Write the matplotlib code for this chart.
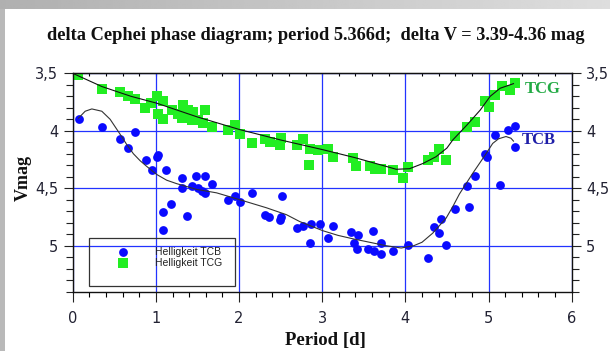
import numpy as np
import matplotlib
matplotlib.use('Agg')
import matplotlib.pyplot as plt
from matplotlib.patches import Rectangle
from matplotlib.ticker import MultipleLocator, FuncFormatter

# phase [d] and magnitude readings, blue channel (TCB)
tcb_phase = [0.07, 0.35, 0.75, 0.57, 0.67, 0.88, 0.95, 1.01, 1.03, 1.12, 1.09, 1.18,
             1.09, 1.37, 1.32, 1.32, 1.43, 1.48, 1.51, 1.59, 1.59, 1.55, 1.67, 1.87,
             1.95, 2.01, 2.15, 2.31, 2.36, 2.49, 2.50, 2.52, 2.70, 2.77, 2.87, 2.97,
             2.85, 3.07, 3.13, 3.35, 3.43, 3.38, 3.42, 3.61, 3.55, 3.62, 3.71, 3.71,
             3.85, 4.03, 4.27, 4.34, 4.40, 4.43, 4.49, 4.60, 4.77, 4.74, 4.84, 4.96,
             4.98, 5.08, 5.14, 5.24, 5.32, 5.32]
tcb_mag = [3.90, 3.97, 4.01, 4.075, 4.15, 4.25, 4.34, 4.23, 4.21, 4.34, 4.71, 4.64,
           4.86, 4.74, 4.41, 4.50, 4.48, 4.39, 4.50, 4.39, 4.54, 4.52, 4.46, 4.60,
           4.57, 4.62, 4.545, 4.73, 4.75, 4.78, 4.75, 4.57, 4.85, 4.83, 4.81, 4.81,
           4.975, 4.93, 4.83, 4.88, 4.91, 4.98, 5.03, 4.87, 5.03, 5.045, 4.975, 5.07,
           5.05, 4.995, 5.11, 4.84, 4.89, 4.77, 4.995, 4.68, 4.66, 4.48, 4.39, 4.20,
           4.23, 4.04, 4.47, 3.99, 3.96, 4.145]

# green channel (TCG)
tcg_phase = [0.06, 0.35, 0.57, 0.67, 0.75, 0.87, 0.94, 1.01, 1.09, 1.03, 1.09, 1.19,
             1.27, 1.33, 1.31, 1.39, 1.43, 1.45, 1.51, 1.59, 1.57, 1.67, 1.87, 1.95,
             2.01, 2.15, 2.31, 2.37, 2.49, 2.51, 2.70, 2.77, 2.85, 2.84, 2.95, 3.07,
             3.13, 3.37, 3.41, 3.57, 3.63, 3.71, 3.85, 3.97, 4.03, 4.27, 4.35, 4.41,
             4.49, 4.60, 4.74, 4.84, 4.96, 5.00, 5.08, 5.16, 5.26, 5.32]
tcg_mag = [3.515, 3.64, 3.665, 3.70, 3.725, 3.80, 3.755, 3.70, 3.745, 3.85, 3.90, 3.82,
           3.85, 3.775, 3.885, 3.82, 3.905, 3.835, 3.905, 3.815, 3.935, 3.965, 3.995, 3.95,
           4.03, 4.105, 4.075, 4.095, 4.125, 4.065, 4.125, 4.075, 4.155, 4.30, 4.17, 4.16,
           4.225, 4.24, 4.305, 4.305, 4.33, 4.335, 4.34, 4.415, 4.315, 4.25, 4.225, 4.16,
           4.255, 4.045, 3.965, 3.92, 3.74, 3.795, 3.69, 3.61, 3.645, 3.585]

# fitted curves as drawn in the original
tcb_fit_x = [0.07, 0.15, 0.23, 0.35, 0.45, 0.57, 0.65, 0.73, 0.81, 0.89, 1.01, 1.13,
             1.25, 1.49, 1.73, 2.01, 2.33, 2.57, 2.73, 3.01, 3.19, 3.37, 3.57, 3.77,
             3.95, 4.10, 4.20, 4.33, 4.49, 4.57, 4.65, 4.81, 4.97, 5.05, 5.12, 5.21,
             5.27, 5.30]
tcb_fit_y = [3.89, 3.83, 3.81, 3.83, 3.90, 4.03, 4.12, 4.20, 4.26, 4.31, 4.38, 4.43,
             4.46, 4.51, 4.54, 4.60, 4.67, 4.73, 4.79, 4.87, 4.91, 4.94, 4.97, 5.00,
             5.02, 5.00, 4.97, 4.89, 4.76, 4.66, 4.55, 4.37, 4.20, 4.11, 4.07, 4.05,
             4.065, 4.09]
tcg_fit_x = [0.00, 0.35, 0.70, 1.01, 1.50, 2.01, 2.50, 3.01, 3.40, 3.77, 3.89, 4.05,
             4.21, 4.37, 4.50, 4.57, 4.74, 4.90, 5.02, 5.14, 5.22, 5.30]
tcg_fit_y = [3.50, 3.615, 3.70, 3.76, 3.88, 3.99, 4.08, 4.165, 4.235, 4.31, 4.335, 4.33,
             4.285, 4.225, 4.15, 4.08, 3.95, 3.82, 3.70, 3.63, 3.61, 3.59]

TITLE = 'delta Cephei phase diagram; period 5.366d;  delta V = 3.39-4.36 mag'
W, H = 610, 351

fig = plt.figure(figsize=(W / 100, H / 100), dpi=100)
fig.patch.set_facecolor('white')

# grey window frame: gradient strip on top, plain strip on the left
band = fig.add_axes([0, 1 - 9 / H, 1, 9 / H])
band.imshow(np.linspace(0.69, 0.87, 256).reshape(1, -1), cmap='gray', vmin=0, vmax=1,
            aspect='auto', extent=(0, 1, 0, 1))
band.axis('off')
fig.patches.append(Rectangle((0, 0), 5 / W, 1 - 9 / H, transform=fig.transFigure,
                             facecolor='#b9b9b9', edgecolor='none'))

ax = fig.add_axes([72.7 / W, 1 - 291.7 / H, (571.7 - 72.7) / W, (291.7 - 73.3) / H])

ax.scatter(tcb_phase, tcb_mag, s=40, marker='o', color='#0a0aff', linewidths=0,
           label='Helligkeit TCB', zorder=2)
ax.scatter(tcg_phase, tcg_mag, s=46, marker='s', color='#22ee22', linewidths=0,
           label='Helligkeit TCG', zorder=2)
ax.plot(tcb_fit_x, tcb_fit_y, color='#333333', lw=0.8, zorder=3)
ax.plot(tcg_fit_x, tcg_fit_y, color='#111111', lw=0.8, zorder=3)

ax.text(5.44, 3.637, 'TCG', color='#22aa44', fontsize=12, fontweight='bold',
        family='Liberation Serif', ha='left', va='center')
ax.text(5.40, 4.081, 'TCB', color='#1e1ea8', fontsize=12, fontweight='bold',
        family='Liberation Serif', ha='left', va='center')

ax.set_xlim(0, 6)
ax.set_ylim(5.4, 3.5)
ax.xaxis.set_major_locator(MultipleLocator(1))
ax.xaxis.set_minor_locator(MultipleLocator(0.2))
ax.yaxis.set_major_locator(MultipleLocator(0.5))
ax.yaxis.set_minor_locator(MultipleLocator(0.1))
ax.yaxis.set_major_formatter(FuncFormatter(lambda v, p: f'{v:g}'.replace('.', ',')))

ax.grid(True, which='major', color='#2233ff', lw=0.9, zorder=1)
ax.set_axisbelow(True)

tick_font = dict(labelsize=10.5, labelcolor='#222233', color='#222222')
ax.tick_params(axis='x', which='major', direction='out', length=7.2, width=0.8, pad=7, **tick_font)
ax.tick_params(axis='x', which='minor', direction='out', length=3.6, width=0.8)
ax.tick_params(axis='y', which='both', left=True, right=True, labelleft=True,
               labelright=True, direction='out', width=0.8, pad=4, **tick_font)
ax.tick_params(axis='y', which='major', length=6.5)
ax.tick_params(axis='y', which='minor', length=5)
for lab in ax.get_xticklabels() + ax.get_yticklabels():
    lab.set_family('DejaVu Sans')

top = ax.secondary_xaxis('top')
top.set_xticks(np.arange(0, 6.01, 0.2))
top.tick_params(direction='in', length=1.8, width=0.8, labeltop=False)

for sp in ax.spines.values():
    sp.set_linewidth(1.0)
    sp.set_color('#111111')

# legend: transparent, boxed larger than its content
leg = ax.legend(loc='upper left', bbox_to_anchor=(0.0794, 0.205), frameon=False,
                borderpad=0, borderaxespad=0, handlelength=2, handletextpad=2.1,
                labelspacing=0.1, scatterpoints=1,
                prop={'family': 'Liberation Sans', 'size': 7.5})
for t in leg.get_texts():
    t.set_color('#222222')
ax.add_patch(Rectangle((0.0327, 0.026), 0.2928, 0.220, transform=ax.transAxes,
                       fill=False, edgecolor='#333333', lw=0.9, zorder=4))

fig.text(316 / W, 1 - 35 / H, TITLE, ha='center', va='center', fontsize=13.2,
         fontweight='bold', family='Liberation Serif', color='#111111')
fig.text(325 / W, 1 - 341 / H, 'Period [d]', ha='center', va='center', fontsize=13.5,
         fontweight='bold', family='Liberation Serif', color='#111111')
fig.text(23 / W, 1 - 178 / H, 'Vmag', ha='center', va='center', rotation=90,
         fontsize=13, fontweight='bold', family='Liberation Serif', color='#111111')

fig.savefig('out.png', dpi=100)
